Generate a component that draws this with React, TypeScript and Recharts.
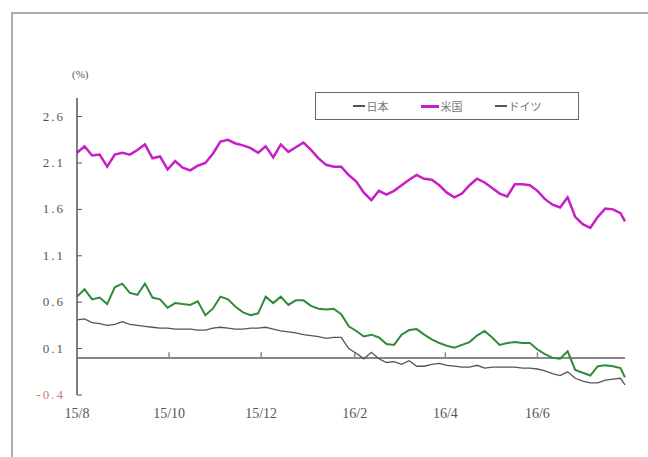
import { LineChart, Line, XAxis, YAxis, ReferenceLine } from "recharts";

// days since 2015-08-01
const days = [
  0, 5, 10, 15, 20, 25, 30, 35, 40, 45, 50, 55, 60, 65, 70, 75, 80, 85, 90, 95,
  100, 105, 110, 115, 120, 125, 130, 135, 140, 145, 150, 155, 160, 165, 170, 175, 180, 185, 190, 195,
  200, 205, 210, 215, 220, 225, 230, 235, 240, 245, 250, 255, 260, 265, 270, 275, 280, 285, 290, 295,
  300, 305, 310, 315, 320, 325, 330, 335, 340, 345, 350, 355, 360, 363,
];

const japan = [
  0.41, 0.42, 0.38, 0.37, 0.35, 0.36, 0.39, 0.36, 0.35, 0.34, 0.33, 0.32, 0.32, 0.31, 0.31, 0.31, 0.30, 0.30, 0.32, 0.33,
  0.32, 0.31, 0.31, 0.32, 0.32, 0.33, 0.31, 0.29, 0.28, 0.27, 0.25, 0.24, 0.23, 0.21, 0.22, 0.22, 0.10, 0.05, -0.01, 0.06,
  -0.01, -0.05, -0.04, -0.07, -0.03, -0.09, -0.09, -0.07, -0.06, -0.08, -0.09, -0.10, -0.10, -0.08, -0.11, -0.10, -0.10, -0.10, -0.10, -0.11,
  -0.11, -0.12, -0.14, -0.17, -0.19, -0.15, -0.22, -0.25, -0.27, -0.27, -0.24, -0.23, -0.22, -0.29,
];

const usa = [
  2.21, 2.28, 2.18, 2.19, 2.06, 2.19, 2.21, 2.19, 2.24, 2.30, 2.15, 2.17, 2.03, 2.12, 2.05, 2.02, 2.07, 2.10, 2.20, 2.33,
  2.35, 2.31, 2.29, 2.26, 2.21, 2.28, 2.16, 2.30, 2.22, 2.27, 2.32, 2.24, 2.15, 2.08, 2.06, 2.06, 1.97, 1.90, 1.78, 1.70,
  1.80, 1.76, 1.80, 1.86, 1.92, 1.97, 1.93, 1.92, 1.86, 1.78, 1.73, 1.77, 1.86, 1.93, 1.89, 1.83, 1.77, 1.74, 1.87, 1.87,
  1.86, 1.80, 1.71, 1.65, 1.62, 1.73, 1.52, 1.44, 1.40, 1.52, 1.61, 1.60, 1.56, 1.47,
];

const germany = [
  0.66, 0.74, 0.63, 0.65, 0.58, 0.76, 0.80, 0.70, 0.68, 0.80, 0.65, 0.63, 0.54, 0.59, 0.58, 0.57, 0.61, 0.46, 0.53, 0.66,
  0.63, 0.55, 0.49, 0.46, 0.48, 0.66, 0.59, 0.66, 0.57, 0.62, 0.62, 0.56, 0.53, 0.52, 0.53, 0.47, 0.34, 0.29, 0.23, 0.25,
  0.22, 0.15, 0.14, 0.25, 0.30, 0.31, 0.25, 0.20, 0.16, 0.13, 0.11, 0.14, 0.17, 0.24, 0.29, 0.22, 0.14, 0.16, 0.17, 0.16,
  0.16, 0.09, 0.04, 0.00, -0.01, 0.07, -0.13, -0.16, -0.19, -0.09, -0.08, -0.09, -0.11, -0.21,
];

const monthTicks = [0, 61, 122, 184, 244, 305];
const monthLabels = ["15/8", "15/10", "15/12", "16/2", "16/4", "16/6"];
const yTicks = [-0.4, 0.1, 0.6, 1.1, 1.6, 2.1, 2.6];

const seriesNames = ["日本", "米国", "ドイツ"];
const seriesColors = ["#555555", "#c81ec8", "#2f8a3a"];

const data = days.map((d, i) => ({
  day: d,
  japan: japan[i],
  usa: usa[i],
  germany: germany[i],
}));

const serif = "'Liberation Serif', 'DejaVu Serif', serif";

const YTick = ({ x, y, payload }: any) => {
  const v = payload.value as number;
  return (
    <text
      x={x}
      y={y}
      dy={4}
      textAnchor="end"
      fontSize={13}
      fontFamily={serif}
      letterSpacing={2}
      fill={v < 0 ? "#d07a7a" : "#555"}
    >
      {v.toFixed(1)}
    </text>
  );
};

const LegendBox = () => (
  <div
    style={{
      position: "absolute",
      left: 315,
      top: 92,
      width: 264,
      height: 28,
      border: "1.5px solid #666",
      boxSizing: "border-box",
      background: "#fff",
      display: "flex",
      alignItems: "center",
      justifyContent: "center",
      gap: 32,
      fontFamily: "'Noto Sans CJK JP', sans-serif",
      fontSize: 11,
      color: "#777",
    }}
  >
    {seriesNames.map((n, i) => (
      <div key={n} style={{ display: "flex", alignItems: "center", gap: 2 }}>
        <span
          style={{
            display: "inline-block",
            width: i === 1 ? 18 : 12,
            height: i === 1 ? 3 : 1.5,
            background: i === 1 ? seriesColors[1] : "#555",
          }}
        />
        <span>{n}</span>
      </div>
    ))}
  </div>
);

export default function App() {
  return (
    <div style={{ position: "fixed", left: 0, top: 0, width: 648, height: 457, background: "#fff", overflow: "hidden" }}>
      <div
        style={{
          position: "absolute",
          left: 11,
          top: 12,
          width: 700,
          height: 520,
          border: "2px solid #aaa",
        }}
      />
      <div
        style={{
          position: "absolute",
          left: 72,
          top: 68,
          fontFamily: serif,
          fontSize: 11,
          color: "#555",
        }}
      >
        (%)
      </div>
      <div style={{ position: "absolute", left: 0, top: 0 }}>
        <LineChart width={648} height={457} data={data} margin={{ top: 98, right: 23, bottom: 32, left: 0 }}>
          <XAxis
            dataKey="day"
            type="number"
            domain={[0, 363]}
            ticks={monthTicks}
            tickFormatter={(v: number) => monthLabels[monthTicks.indexOf(v)] ?? ""}
            axisLine={false}
            tickLine={false}
            height={30}
            tickMargin={7}
            tick={{ fill: "#555", fontSize: 14, fontFamily: serif }}
            interval={0}
          />
          <YAxis
            type="number"
            domain={[-0.4, 2.8]}
            ticks={yTicks}
            width={77}
            axisLine={{ stroke: "#555", strokeWidth: 1.5 }}
            tickLine={{ stroke: "#555" }}
            tickSize={-5}
            tickMargin={17}
            tick={<YTick />}
            interval={0}
          />
          <ReferenceLine y={0} stroke="#888" strokeWidth={2} />
          {monthTicks.slice(1).map((d) => (
            <ReferenceLine
              key={d}
              segment={[
                { x: d, y: 0 },
                { x: d, y: 0.06 },
              ]}
              stroke="#888"
              strokeWidth={1.5}
            />
          ))}
          <Line
            dataKey="japan"
            name={seriesNames[0]}
            stroke={seriesColors[0]}
            strokeWidth={1.3}
            dot={false}
            isAnimationActive={false}
          />
          <Line
            dataKey="germany"
            name={seriesNames[2]}
            stroke={seriesColors[2]}
            strokeWidth={2}
            dot={false}
            isAnimationActive={false}
          />
          <Line
            dataKey="usa"
            name={seriesNames[1]}
            stroke={seriesColors[1]}
            strokeWidth={2.5}
            dot={false}
            isAnimationActive={false}
          />
        </LineChart>
      </div>
      <LegendBox />
    </div>
  );
}
